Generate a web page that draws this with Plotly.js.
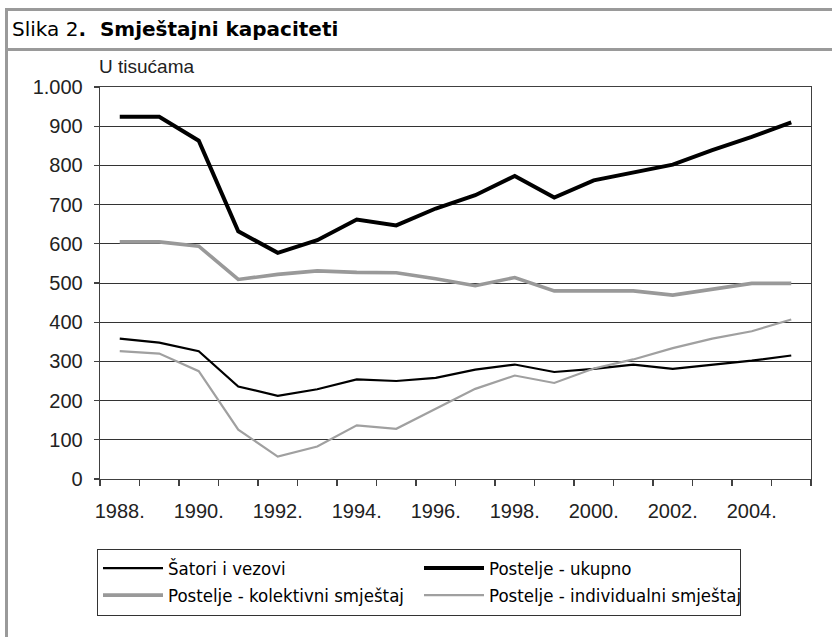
<!DOCTYPE html>
<html>
<head>
<meta charset="utf-8">
<script src="https://cdn.plot.ly/plotly-3.0.1.min.js"></script>
<style>
  html, body { margin: 0; padding: 0; background: #ffffff; }
  #wrap { position: relative; width: 832px; height: 637px; overflow: hidden; }
  #chart { position: absolute; left: 0; top: 0; width: 832px; height: 637px; }
  .frame { position: absolute; background: #9a9a9a; pointer-events: none; z-index: 5; }
</style>
</head>
<body>
<div id="wrap">
  <div id="chart"></div>
  <div class="frame" style="left:5px; top:8px; width:827px; height:3px;"></div>
  <div class="frame" style="left:5px; top:48px; width:827px; height:3px;"></div>
  <div class="frame" style="left:5px; top:8px; width:3px; height:629px;"></div>
</div>
<script>
// ---- data (thousands) ----
const years = [1988, 1989, 1990, 1991, 1992, 1993, 1994, 1995, 1996,
               1997, 1998, 1999, 2000, 2001, 2002, 2003, 2004, 2005];
const labelYears = [1988, 1990, 1992, 1994, 1996, 1998, 2000, 2002, 2004];
const tickLabels = ["1988.", "1990.", "1992.", "1994.", "1996.", "1998.", "2000.", "2002.", "2004."];

const satoriVezovi = [358, 348, 326, 236, 212, 229, 254, 250, 258, 279, 292, 273, 281, 292, 281, 292, 302, 315];
const posteljeUkupno = [924, 924, 863, 632, 577, 609, 662, 647, 690, 724, 773, 718, 762, 781, 802, 839, 873, 910];
const posteljeKolektivni = [605, 605, 594, 509, 522, 531, 527, 526, 511, 493, 514, 480, 480, 480, 469, 483, 499, 499];
const posteljeIndividualni = [326, 320, 275, 126, 57, 83, 137, 128, 179, 230, 264, 245, 282, 305, 334, 358, 377, 407];

const seriesNames = ["Šatori i vezovi", "Postelje - ukupno", "Postelje - kolektivni smještaj", "Postelje - individualni smještaj"];

// category boundaries (tick marks sit between years)
const boundaries = years.map(y => y - 0.5).concat([years[years.length - 1] + 0.5]);

const traces = [
  { x: years, y: satoriVezovi, name: seriesNames[0], type: "scatter", mode: "lines",
    legendgroup: "g1", line: { color: "#000000", width: 2.2 } },
  { x: years, y: posteljeUkupno, name: seriesNames[1], type: "scatter", mode: "lines",
    legendgroup: "g1", line: { color: "#000000", width: 4 } },
  { x: years, y: posteljeKolektivni, name: seriesNames[2], type: "scatter", mode: "lines",
    legendgroup: "g2", line: { color: "#999999", width: 3.6 } },
  { x: years, y: posteljeIndividualni, name: seriesNames[3], type: "scatter", mode: "lines",
    legendgroup: "g2", line: { color: "#a0a0a0", width: 2.2 } }
];

const tickFont = { family: "Liberation Sans, Arial, sans-serif", size: 20, color: "#222222" };

const layout = {
  width: 832,
  height: 637,
  margin: { l: 100, r: 21, t: 87, b: 158, pad: 0 },
  paper_bgcolor: "#ffffff",
  plot_bgcolor: "#ffffff",
  separators: ",.",
  showlegend: true,
  title: {
    text: "Slika 2<b>.  Smještajni kapaciteti</b>",
    font: { family: "DejaVu Sans, Liberation Sans, Arial, sans-serif", size: 20, color: "#000000" },
    xref: "container", yref: "container",
    x: 12 / 832, xanchor: "left",
    y: 1 - 29 / 637, yanchor: "middle"
  },
  xaxis: {
    range: [years[0] - 0.5, years[years.length - 1] + 0.5],
    tickmode: "array",
    tickvals: labelYears,
    ticktext: tickLabels,
    ticks: "",
    showline: true,
    linecolor: "#404040",
    linewidth: 1.3,
    mirror: true,
    showgrid: false,
    zeroline: false,
    tickfont: tickFont,
    tickangle: 0,
    ticklabelstandoff: 14,
    minor: {
      tickmode: "array",
      tickvals: boundaries,
      ticks: "outside",
      ticklen: 6,
      tickwidth: 1.3,
      tickcolor: "#404040",
      showgrid: false
    },
    fixedrange: true
  },
  yaxis: {
    range: [0, 1000],
    tickmode: "linear",
    tick0: 0,
    dtick: 100,
    tickformat: ",d",
    ticks: "outside",
    ticklen: 5,
    tickwidth: 1.3,
    tickcolor: "#404040",
    showline: true,
    linecolor: "#404040",
    linewidth: 1.3,
    mirror: true,
    showgrid: true,
    gridcolor: "#333333",
    gridwidth: 1,
    zeroline: false,
    tickfont: tickFont,
    ticklabelstandoff: 7,
    fixedrange: true
  },
  legend: {
    orientation: "h",
    x: -3 / 711, xanchor: "left",
    y: (478.5 - 548) / 391.5, yanchor: "top",
    bordercolor: "#333333",
    borderwidth: 1,
    bgcolor: "#ffffff",
    itemwidth: 60,
    entrywidth: 246,
    entrywidthmode: "pixels",
    tracegroupgap: 7,
    font: { family: "Liberation Sans Narrow, DejaVu Sans Condensed, Arial Narrow, sans-serif", size: 18.5, color: "#000000" },
    traceorder: "normal"
  },
  annotations: [
    {
      text: "U tisućama",
      xref: "paper", yref: "paper",
      x: -3 / 711, xanchor: "left",
      y: (478.5 - 66.5) / 391.5, yanchor: "middle",
      showarrow: false,
      font: { family: "Liberation Sans, Arial, sans-serif", size: 19, color: "#222222" }
    }
  ]
};

Plotly.newPlot("chart", traces, layout, { staticPlot: true, displayModeBar: false });
</script>
</body>
</html>
